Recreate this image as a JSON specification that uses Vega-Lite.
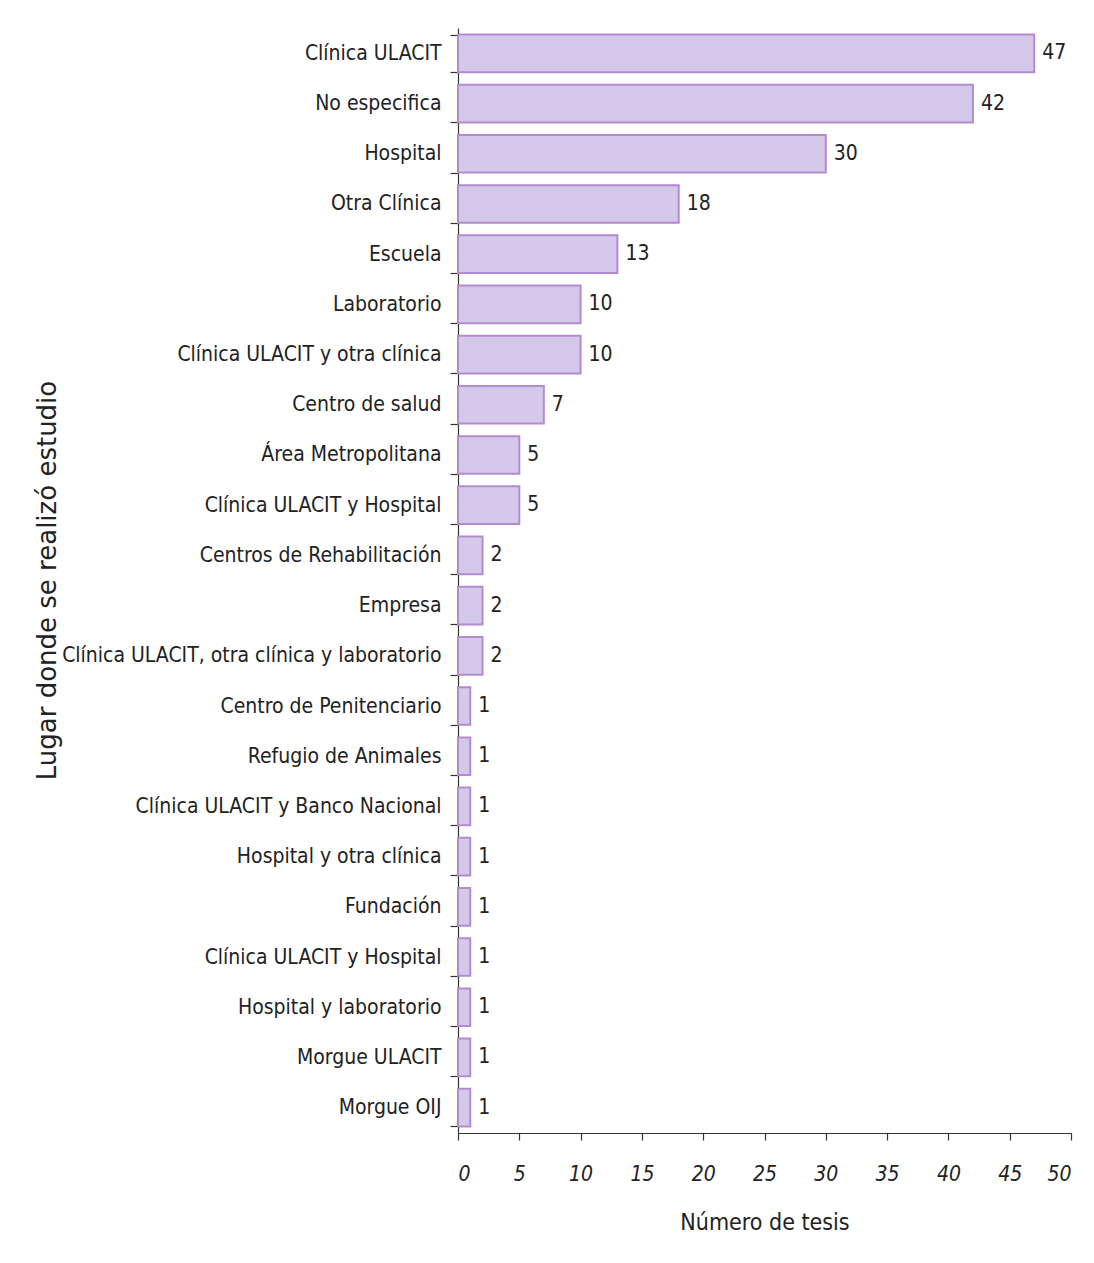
{
  "$schema": "https://vega.github.io/schema/vega-lite/v6.json",
  "width": 613,
  "height": 1105,
  "autosize": {"type": "none"},
  "padding": {"left": 458, "top": 28, "right": 23, "bottom": 130},
  "background": "white",
  "config": {
    "view": {"stroke": null},
    "font": "DejaVu Sans Condensed"
  },
  "data": {
    "values": [
      {"lugar": "01|Clínica ULACIT", "tesis": 47},
      {"lugar": "02|No especifica", "tesis": 42},
      {"lugar": "03|Hospital", "tesis": 30},
      {"lugar": "04|Otra Clínica", "tesis": 18},
      {"lugar": "05|Escuela", "tesis": 13},
      {"lugar": "06|Laboratorio", "tesis": 10},
      {"lugar": "07|Clínica ULACIT y otra clínica", "tesis": 10},
      {"lugar": "08|Centro de salud", "tesis": 7},
      {"lugar": "09|Área Metropolitana", "tesis": 5},
      {"lugar": "10|Clínica ULACIT y Hospital", "tesis": 5},
      {"lugar": "11|Centros de Rehabilitación", "tesis": 2},
      {"lugar": "12|Empresa", "tesis": 2},
      {"lugar": "13|Clínica ULACIT, otra clínica y laboratorio", "tesis": 2},
      {"lugar": "14|Centro de Penitenciario", "tesis": 1},
      {"lugar": "15|Refugio de Animales", "tesis": 1},
      {"lugar": "16|Clínica ULACIT y Banco Nacional", "tesis": 1},
      {"lugar": "17|Hospital y otra clínica", "tesis": 1},
      {"lugar": "18|Fundación", "tesis": 1},
      {"lugar": "19|Clínica ULACIT y Hospital", "tesis": 1},
      {"lugar": "20|Hospital y laboratorio", "tesis": 1},
      {"lugar": "21|Morgue ULACIT", "tesis": 1},
      {"lugar": "22|Morgue OIJ", "tesis": 1}
    ]
  },
  "encoding": {
    "y": {
      "field": "lugar",
      "type": "nominal",
      "sort": null,
      "scale": {"paddingInner": 0.25, "paddingOuter": 0.13},
      "axis": {
        "title": "Lugar donde se realizó estudio",
        "titleFont": "DejaVu Sans",
        "titleFontSize": 26,
        "titleFontWeight": "normal",
        "titleColor": "#222222",
        "titleX": -411,
        "titleY": 552,
        "titleAngle": -90,
        "titleAlign": "center",
        "titleBaseline": "middle",
        "labelExpr": "split(datum.label, '|')[1]",
        "labelFontSize": 21,
        "labelColor": "#222222",
        "labelPadding": 9,
        "labelLimit": 500,
        "tickBand": "extent",
        "tickSize": 8,
        "tickColor": "#333333",
        "domainColor": "#333333",
        "tickWidth": 1.2,
        "domainWidth": 1.2
      }
    },
    "x": {
      "field": "tesis",
      "type": "quantitative",
      "scale": {"domain": [0, 50], "nice": false},
      "axis": {
        "title": "Número de tesis",
        "titleFontSize": 23,
        "titleFontWeight": "normal",
        "titleColor": "#222222",
        "titlePadding": 27,
        "values": [0, 5, 10, 15, 20, 25, 30, 35, 40, 45, 50],
        "labelFontSize": 21,
        "labelFontStyle": "italic",
        "labelColor": "#222222",
        "labelPadding": 23,
        "tickSize": 7,
        "tickColor": "#333333",
        "domainColor": "#333333",
        "tickWidth": 1.2,
        "domainWidth": 1.2,
        "grid": false
      }
    }
  },
  "layer": [
    {
      "mark": {"type": "bar", "fill": "#d4c9ea", "stroke": "#b38ccd", "strokeWidth": 2}
    },
    {
      "mark": {"type": "text", "align": "left", "baseline": "middle", "dx": 8, "fontSize": 21, "color": "#222222"},
      "encoding": {"text": {"field": "tesis", "type": "quantitative"}}
    }
  ]
}
